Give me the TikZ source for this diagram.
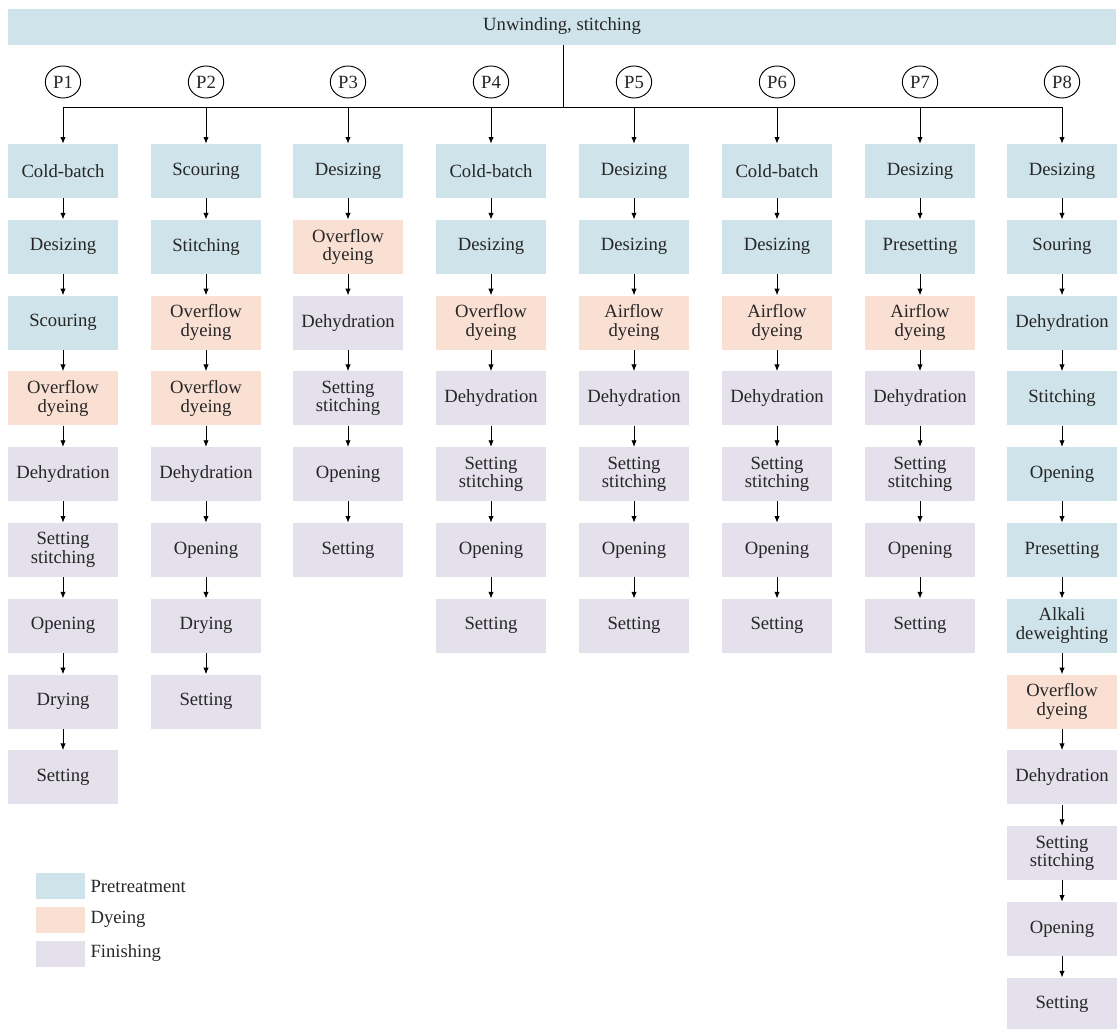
\documentclass[tikz,border=0pt]{standalone}
\usepackage{fontspec}
\setmainfont{Liberation Serif}
\usetikzlibrary{arrows.meta,shapes.geometric,positioning}
\definecolor{pretreat}{RGB}{207,228,234}
\definecolor{dyeing}{RGB}{250,223,211}
\definecolor{finish}{RGB}{228,224,236}

\begin{document}
\begin{tikzpicture}[x=0.75pt,y=-0.75pt,
  font=\fontsize{14}{14}\selectfont,text=black!85,
  stage/.style={minimum width=82.5pt,minimum height=40.5pt,inner sep=0pt,align=center},
  pre/.style={stage,fill=pretreat},
  dye/.style={stage,fill=dyeing},
  fin/.style={stage,fill=finish},
  proc/.style={draw,ellipse,line width=0.7pt,inner sep=0pt,minimum width=26.5pt,minimum height=24pt},
  flow/.style={-{Latex[length=5pt,width=4pt]},line width=0.7pt}]
 % Rahmen des Bildes:
 \useasboundingbox (0,0) rectangle (1119,1028);
 % oberer Balken:
 \node[pre,minimum width=831pt,minimum height=27pt] (unwind) at (562,26.5) {Unwinding, stitching};
 % Prozess P1
 \foreach \r/\s/\t in {1/pre/Cold-batch,2/pre/Desizing,3/pre/Scouring,4/dye/Overflow\\dyeing,
   5/fin/Dehydration,6/fin/Setting\\stitching,7/fin/Opening,8/fin/Drying,9/fin/Setting}
 \node[\s] (c1-\r) at (63,{171+75.8*(\r-1)}) {\t};
 % Prozess P2
 \foreach \r/\s/\t in {1/pre/Scouring,2/pre/Stitching,3/dye/Overflow\\dyeing,4/dye/Overflow\\dyeing,
   5/fin/Dehydration,6/fin/Opening,7/fin/Drying,8/fin/Setting}
 \node[\s] (c2-\r) at (206,{171+75.8*(\r-1)}) {\t};
 % Prozess P3
 \foreach \r/\s/\t in {1/pre/Desizing,2/dye/Overflow\\dyeing,3/fin/Dehydration,
   4/fin/Setting\\stitching,5/fin/Opening,6/fin/Setting}
 \node[\s] (c3-\r) at (348,{171+75.8*(\r-1)}) {\t};
 % Prozess P4
 \foreach \r/\s/\t in {1/pre/Cold-batch,2/pre/Desizing,3/dye/Overflow\\dyeing,4/fin/Dehydration,
   5/fin/Setting\\stitching,6/fin/Opening,7/fin/Setting}
 \node[\s] (c4-\r) at (491,{171+75.8*(\r-1)}) {\t};
 % Prozess P5
 \foreach \r/\s/\t in {1/pre/Desizing,2/pre/Desizing,3/dye/Airflow\\dyeing,4/fin/Dehydration,
   5/fin/Setting\\stitching,6/fin/Opening,7/fin/Setting}
 \node[\s] (c5-\r) at (634,{171+75.8*(\r-1)}) {\t};
 % Prozess P6
 \foreach \r/\s/\t in {1/pre/Cold-batch,2/pre/Desizing,3/dye/Airflow\\dyeing,4/fin/Dehydration,
   5/fin/Setting\\stitching,6/fin/Opening,7/fin/Setting}
 \node[\s] (c6-\r) at (777,{171+75.8*(\r-1)}) {\t};
 % Prozess P7
 \foreach \r/\s/\t in {1/pre/Desizing,2/pre/Presetting,3/dye/Airflow\\dyeing,4/fin/Dehydration,
   5/fin/Setting\\stitching,6/fin/Opening,7/fin/Setting}
 \node[\s] (c7-\r) at (920,{171+75.8*(\r-1)}) {\t};
 % Prozess P8
 \foreach \r/\s/\t in {1/pre/Desizing,2/pre/Souring,3/pre/Dehydration,4/pre/Stitching,
   5/pre/Opening,6/pre/Presetting,7/pre/Alkali\\deweighting,8/dye/Overflow\\dyeing,
   9/fin/Dehydration,10/fin/Setting\\stitching,11/fin/Opening,12/fin/Setting}
 \node[\s] (c8-\r) at (1062,{171+75.8*(\r-1)}) {\t};
 % Kreise P1 bis P8:
 \foreach \c/\x in {1/63,2/206,3/348,4/491,5/634,6/777,7/920,8/1062}
 \node[proc] (p\c) at (\x,82) {P\c};
 % Verteiler von oben:
 \coordinate (bus) at (563,107);
 \draw[line width=0.7pt] (unwind.south -| bus) -- (bus);
 \draw[line width=0.7pt] (c1-1 |- bus) -- (c8-1 |- bus);
 \foreach \c in {1,...,8} \draw[flow] (c\c-1 |- bus) -- (c\c-1);
 % Pfeile innerhalb der Spalten:
 \foreach \c/\n in {1/9,2/8,3/6,4/7,5/7,6/7,7/7,8/12}
 \foreach \r [count=\p] in {2,...,\n}
 \draw[flow] (c\c-\p.south) -- (c\c-\r.north);
 % Legende:
 \node[pre,minimum width=36.75pt,minimum height=19.5pt] (leg1) at (60.5,886) {};
 \node[dye,minimum width=36.75pt,minimum height=19.5pt] (leg2) at (60.5,919.5) {};
 \node[fin,minimum width=36.75pt,minimum height=19.5pt] (leg3) at (60.5,953.5) {};
 \node[right=3.75pt of leg1,inner sep=0pt] (txt1) {Pretreatment};
 \node[right=3.75pt of leg2,inner sep=0pt] (txt2) {Dyeing};
 \node[right=3.75pt of leg3,inner sep=0pt] (txt3) {Finishing};
\end{tikzpicture}
\end{document}
